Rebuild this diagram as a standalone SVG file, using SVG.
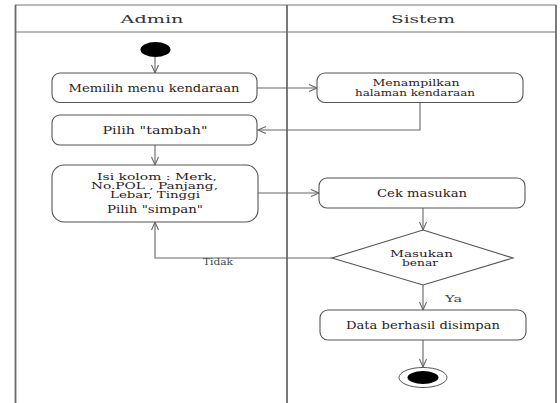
<svg xmlns="http://www.w3.org/2000/svg" width="560" height="403" viewBox="0 0 560 403">
<defs>
<style>
.frame{stroke:#6b6b6b;stroke-width:1.8;fill:none}
.hline{stroke:#777;stroke-width:1.2;fill:none}
.node{fill:#fff;stroke:#555;stroke-width:1.1}
.t{font-family:"DejaVu Serif","Liberation Serif",serif;font-size:10.5px;fill:#2a2222;text-anchor:middle}
.t2{font-size:9px}
.t3{font-size:8.5px}
.title{font-family:"DejaVu Serif","Liberation Serif",serif;font-size:11px;fill:#333;text-anchor:middle}
.conn{stroke:#666;stroke-width:1.1;fill:none;marker-end:url(#arr)}
.lbl{font-family:"DejaVu Serif","Liberation Serif",serif;font-size:10px;fill:#3c4a44;text-anchor:middle}
</style>
<marker id="arr" markerUnits="userSpaceOnUse" markerWidth="12" markerHeight="10" refX="9" refY="4" orient="auto">
<path d="M1,0.5 L9,4 L1,7.5" fill="none" stroke="#666" stroke-width="1.1"/>
</marker>
</defs>
<rect width="560" height="403" fill="#fff"/>
<g id="swimlanes">
<line class="hline" x1="15" y1="5" x2="556" y2="5"/>
<line class="hline" x1="15" y1="32" x2="556" y2="32"/>
<line class="frame" x1="15.5" y1="5" x2="15.5" y2="403"/>
<line class="frame" x1="287" y1="5" x2="287" y2="403"/>
<line class="frame" x1="556" y1="5" x2="556" y2="403"/>
<text class="title" x="152" y="22.5" textLength="63" lengthAdjust="spacingAndGlyphs">Admin</text>
<text class="title" x="423" y="22.5" textLength="64" lengthAdjust="spacingAndGlyphs">Sistem</text>
</g>
<g id="connectors">
<line class="conn" x1="155" y1="57" x2="155" y2="73"/>
<line class="conn" x1="257" y1="88" x2="317" y2="88"/>
<polyline class="conn" points="420,103 420,130 258,130"/>
<line class="conn" x1="155" y1="145" x2="155" y2="165"/>
<line class="conn" x1="258" y1="193" x2="319" y2="193"/>
<line class="conn" x1="423" y1="208" x2="423" y2="230"/>
<polyline class="conn" points="332,258 155,258 155,222"/>
<line class="conn" x1="423" y1="285" x2="423" y2="310"/>
<line class="conn" x1="423" y1="340" x2="423" y2="367"/>
<text class="lbl" x="218" y="264.5" textLength="30" lengthAdjust="spacingAndGlyphs">Tidak</text>
<text class="lbl" x="453.5" y="302" textLength="17" lengthAdjust="spacingAndGlyphs">Ya</text>
</g>
<g id="start">
<ellipse cx="155.5" cy="49.5" rx="15" ry="7.5" fill="#000"/>
</g>
<g id="n1">
<rect class="node" x="52" y="73" width="205" height="29.5" rx="8"/>
<text class="t" x="154" y="92" textLength="171" lengthAdjust="spacingAndGlyphs">Memilih menu kendaraan</text>
</g>
<g id="n2">
<rect class="node" x="317" y="73" width="206" height="29.5" rx="8"/>
<text class="t t2" x="416" y="86" textLength="87" lengthAdjust="spacingAndGlyphs">Menampilkan</text>
<text class="t t2" x="415" y="95.5" textLength="120" lengthAdjust="spacingAndGlyphs">halaman kendaraan</text>
</g>
<g id="n3">
<rect class="node" x="52" y="115" width="205" height="30" rx="8"/>
<text class="t" x="155" y="134" textLength="105" lengthAdjust="spacingAndGlyphs">Pilih "tambah"</text>
</g>
<g id="n4">
<rect class="node" x="52" y="165" width="206" height="57" rx="12"/>
<text class="t t3" x="157" y="179.5" textLength="120" lengthAdjust="spacingAndGlyphs">Isi kolom : Merk,</text>
<text class="t t3" x="154.5" y="188.5" textLength="127" lengthAdjust="spacingAndGlyphs">No.POL , Panjang,</text>
<text class="t t3" x="155" y="197.5" textLength="90" lengthAdjust="spacingAndGlyphs">Lebar, Tinggi</text>
<text class="t" x="155" y="213" textLength="96" lengthAdjust="spacingAndGlyphs">Pilih "simpan"</text>
</g>
<g id="n5">
<rect class="node" x="319" y="178" width="206" height="30" rx="8"/>
<text class="t" x="422" y="197" textLength="90" lengthAdjust="spacingAndGlyphs">Cek masukan</text>
</g>
<g id="decision">
<polygon class="node" points="423,230 513,258 423,285 332,258"/>
<text class="t t2" x="421.5" y="256.5" textLength="63" lengthAdjust="spacingAndGlyphs">Masukan</text>
<text class="t t2" x="420" y="266" textLength="36" lengthAdjust="spacingAndGlyphs">benar</text>
</g>
<g id="n6">
<rect class="node" x="320" y="310" width="206" height="30" rx="8"/>
<text class="t" x="423" y="329" textLength="154" lengthAdjust="spacingAndGlyphs">Data berhasil disimpan</text>
</g>
<g id="end">
<ellipse cx="423" cy="377.5" rx="24" ry="10" fill="#fff" stroke="#555" stroke-width="1"/>
<ellipse cx="423" cy="377.5" rx="15.5" ry="6.5" fill="#000"/>
</g>
</svg>
